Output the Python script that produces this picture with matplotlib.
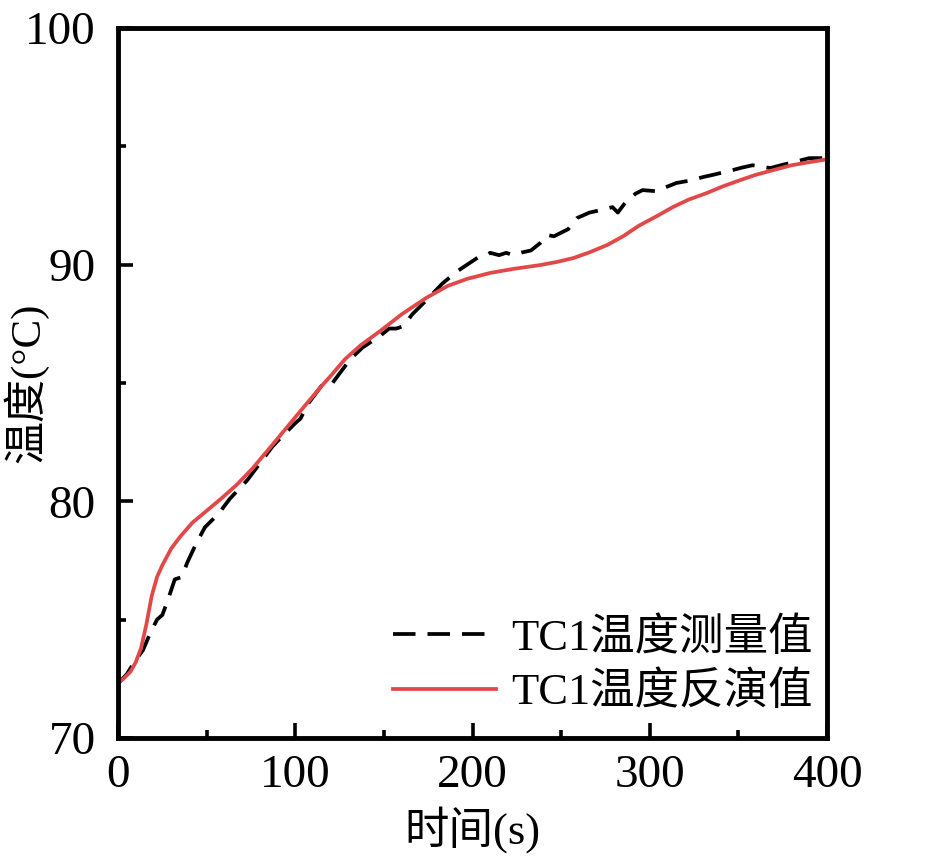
import matplotlib
matplotlib.use("Agg")
import matplotlib.pyplot as plt
from matplotlib.ticker import MultipleLocator

plt.rcParams['font.family'] = ['Liberation Serif', 'Noto Sans CJK SC', 'DejaVu Sans']

t_meas = [0, 5, 10, 14, 18, 22, 25, 28, 32, 36, 39, 44, 49, 57, 63, 73, 79, 87, 92, 100,
          103, 107, 116, 121, 124, 131, 138, 148, 153, 157, 161, 166, 174, 183, 191, 197,
          203, 208, 210, 215, 219, 223, 227, 233, 238, 242, 246, 254, 259, 266, 272, 279,
          282, 286, 292, 296, 304, 310, 315, 324, 330, 336, 347, 352, 358, 368, 374, 381,
          390, 400]
T_meas = [72.3, 72.7, 73.3, 73.7, 74.4, 75.0, 75.2, 75.8, 76.7, 76.8, 77.4, 78.2, 78.9, 79.5,
          80.1, 80.9, 81.5, 82.3, 82.7, 83.3, 83.5, 84.1, 85.0, 85.0, 85.3, 86.0, 86.5, 87.0,
          87.3, 87.3, 87.4, 87.9, 88.5, 89.2, 89.7, 90.0, 90.3, 90.4, 90.5, 90.4, 90.5, 90.4,
          90.5, 90.6, 90.9, 91.25, 91.2, 91.5, 91.97, 92.2, 92.3, 92.43, 92.2, 92.6, 93.0,
          93.15, 93.1, 93.3, 93.45, 93.57, 93.7, 93.8, 94.0, 94.1, 94.2, 94.08, 94.2, 94.33,
          94.5, 94.5]

t_inv = [0, 3, 7, 10, 13, 16, 19, 22, 25, 30, 35, 42, 50, 58, 67, 76, 85, 95, 105, 114, 120,
         128, 137, 148, 160, 174, 186, 197, 210, 223, 238, 248, 257, 266, 276, 285, 294, 304,
         313, 322, 332, 341, 351, 360, 370, 380, 390, 400]
T_inv = [72.3, 72.5, 72.8, 73.2, 73.8, 74.8, 76.0, 76.8, 77.3, 78.0, 78.5, 79.1, 79.6, 80.1,
         80.7, 81.4, 82.2, 83.1, 84.0, 84.8, 85.3, 86.0, 86.6, 87.2, 87.9, 88.6, 89.1, 89.4,
         89.65, 89.82, 89.98, 90.12, 90.28, 90.52, 90.83, 91.2, 91.65, 92.05, 92.43, 92.75,
         93.02, 93.3, 93.57, 93.8, 94.0, 94.2, 94.33, 94.45]

label_meas = 'TC1温度测量值'
label_inv = 'TC1温度反演值'
xlabel = '时间(s)'
ylabel = '温度(°C)'
xticks = [0, 100, 200, 300, 400]
yticks = [70, 80, 90, 100]

fig = plt.figure(figsize=(9.45, 8.61), dpi=100)
ax = fig.add_axes([0.1249, 0.1429, 0.7502, 0.8246])

ax.plot(t_meas, T_meas, color='black', lw=2.7, dashes=(6.0, 3.2), label=label_meas)
ax.plot(t_inv, T_inv, color='#e24848', lw=2.7, label=label_inv)

ax.set_xlim(0, 400)
ax.set_ylim(70, 100)
ax.set_xticks(xticks)
ax.set_yticks(yticks)
ax.xaxis.set_minor_locator(MultipleLocator(50))
ax.yaxis.set_minor_locator(MultipleLocator(5))

for s in ax.spines.values():
    s.set_linewidth(3.5)
ax.tick_params(which='major', direction='in', length=11, width=2.6, labelsize=34)
ax.tick_params(which='minor', direction='in', length=5.5, width=2.6)
ax.tick_params(axis='x', which='major', pad=12)
ax.tick_params(axis='y', which='major', pad=16)

ax.set_xlabel(xlabel, fontsize=32, labelpad=7)
yl = ax.set_ylabel(ylabel, fontsize=31)
yl.set_va('center')
ax.yaxis.set_label_coords(-0.130, 0.5)

leg = ax.legend(loc='lower right', frameon=False, fontsize=32, handlelength=2.3,
                handletextpad=0.35, labelspacing=0.28, borderaxespad=0.0,
                bbox_to_anchor=(1.005, 0.01))

fig.savefig('out.png', dpi=100)
